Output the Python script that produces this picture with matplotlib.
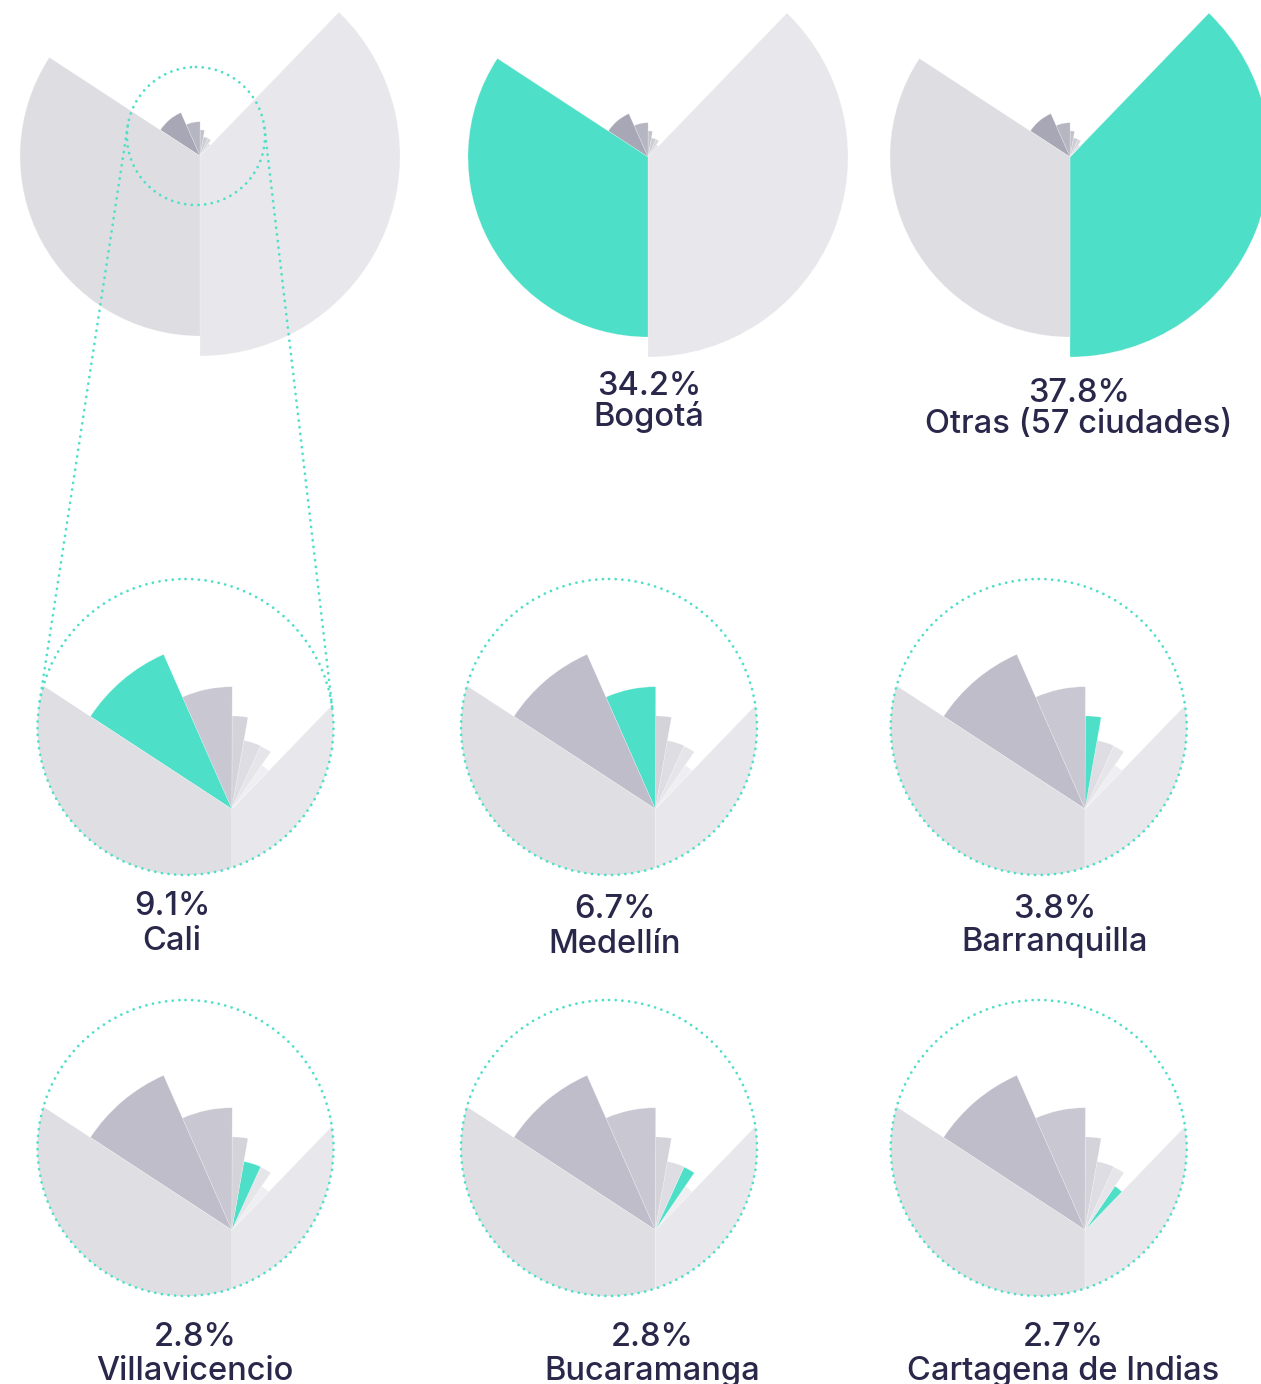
import numpy as np
import matplotlib
matplotlib.use("Agg")
import matplotlib.pyplot as plt
from matplotlib.patches import Circle

# ---------------- data ----------------
cities = ["Bogotá", "Otras (57 ciudades)", "Cali", "Medellín", "Barranquilla",
          "Villavicencio", "Bucaramanga", "Cartagena de Indias"]
share = [34.2, 37.8, 9.1, 6.7, 3.8, 2.8, 2.8, 2.7]
# sector opening angle (degrees) and radius (arbitrary units)
span_deg = [123.2, 136.0, 33.0, 24.0, 9.8, 14.5, 9.8, 9.7]
radius = [180, 200, 47.4, 34.3, 26.1, 19.5, 19.4, 14.9]
# counter-clockwise order starting from straight down
ring_order = ["Otras (57 ciudades)", "Cartagena de Indias", "Bucaramanga", "Villavicencio",
              "Barranquilla", "Medellín", "Cali", "Bogotá"]

# ---------------- style ----------------
GREEN = "#4ddfc7"
TXT = "#29284b"
top_colors = ["#dedde2", "#e8e7eb", "#a8a7b5", "#b6b5c2", "#c3c2cc", "#cecdd5", "#d7d6dd", "#e2e1e6"]
zoom_colors = ["#dfdee3", "#e8e7eb", "#bfbdca", "#c9c8d2", "#d4d3da", "#dedde3", "#e6e5ea", "#efeff2"]
FONT = ["Inter", "DejaVu Sans"]

W, H = 1261, 1384
fig = plt.figure(figsize=(W / 100, H / 100), dpi=100)

overlay = fig.add_axes([0, 0, 1, 1])
overlay.set_xlim(0, W)
overlay.set_ylim(H, 0)
overlay.set_axis_off()
overlay.set_zorder(10)


def px_rect(cx, cy, R):
    return [(cx - R) / W, 1 - (cy + R) / H, 2 * R / W, 2 * R / H]


def rose(cx, cy, scale, R, colors, hl=None, clip=None):
    ax = fig.add_axes(px_rect(cx, cy, R), projection="polar")
    ax.set_ylim(0, R / scale)
    ax.set_axis_off()
    start = 270.0
    for name in ring_order:
        i = cities.index(name)
        span = span_deg[i]
        col = GREEN if (hl is not None and i == hl) else colors[i]
        bars = ax.bar(np.deg2rad(start + span / 2), radius[i], width=np.deg2rad(span),
                      color=col, edgecolor=(1, 1, 1, 0.45), linewidth=0.35)
        if clip is not None:
            for b in bars:
                b.set_clip_path(clip)
        start += span
    return ax


DOTS = (0, (0.01, 2.4))


def dotted_circle(cx, cy, r):
    overlay.add_patch(Circle((cx, cy), r, fill=False, edgecolor=GREEN, linewidth=2.0,
                             linestyle=DOTS, capstyle="round"))


def label(x, y1, y2, i):
    overlay.text(x, y1, f"{share[i]:.1f}%", ha="center", va="baseline",
                 fontsize=23.5, fontweight=500, color=TXT, family=FONT)
    overlay.text(x, y2, cities[i], ha="center", va="baseline",
                 fontsize=23.5, fontweight=500, color=TXT, family=FONT)


# ---------------- top row ----------------
rose(200, 156, 1.0, 212, top_colors)
rose(648, 157, 1.0, 212, top_colors, hl=0)
rose(1070, 157, 1.0, 212, top_colors, hl=1)
label(649, 395, 426, 0)
label(1079, 402, 433, 1)

# small magnifier circle and tangents towards the Cali panel
c1 = np.array([196.0, 136.0]); r1 = 69.0
c2 = np.array([185.5, 727.0]); r2 = 148.0
dotted_circle(*c1, r1)
d = c2 - c1
L = np.hypot(*d)
dh = d / L
perp = np.array([-dh[1], dh[0]])
cosa = (r2 - r1) / L
sina = np.sqrt(1 - cosa ** 2)
for s in (1, -1):
    n = cosa * dh + s * sina * perp
    p1 = c1 - r1 * n
    p2 = c2 - r2 * n
    overlay.plot([p1[0], p2[0]], [p1[1], p2[1]], color=GREEN, linewidth=2.0,
                 linestyle=DOTS, dash_capstyle="round")

# ---------------- zoom panels ----------------
ZS = 3.565       # px per unit in zoom panels
CR = 148         # clip circle radius
panels = [
    (185.5, 727, 2, 172, 915, 950),
    (609.0, 727, 3, 615, 918, 953),
    (1038.7, 727, 4, 1055, 918, 951),
    (185.5, 1148, 5, 195, 1346, 1380),
    (609.0, 1148, 6, 652, 1346, 1380),
    (1038.7, 1148, 7, 1063, 1346, 1380),
]
for ccx, ccy, hl, lx, ly1, ly2 in panels:
    clip = Circle((ccx, ccy), CR, transform=overlay.transData)
    rose(ccx + 46.3, ccy + 82, ZS, 250, zoom_colors, hl=hl, clip=clip)
    dotted_circle(ccx, ccy, CR)
    label(lx, ly1, ly2, hl)

fig.savefig("out.png", dpi=100, facecolor="white")
